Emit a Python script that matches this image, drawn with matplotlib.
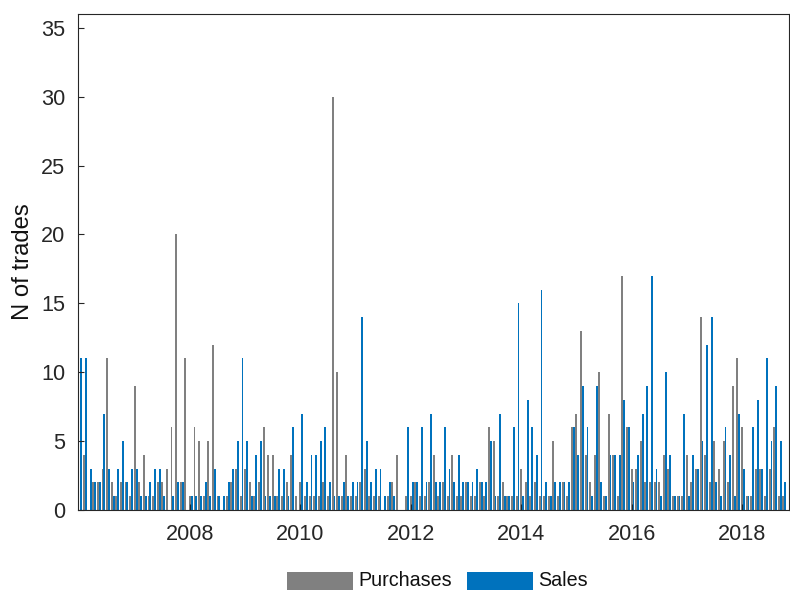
import matplotlib
matplotlib.use("Agg")
import matplotlib.pyplot as plt
from matplotlib.patches import Rectangle
import numpy as np

plt.rcParams['font.family'] = ['Liberation Sans', 'DejaVu Sans']

# Monthly counts, Jan 2006 .. Oct 2018
start_year = 2006
purchases = [0, 4, 0, 2, 2, 3, 11, 2, 1, 2, 2, 1,
             9, 2, 4, 1, 1, 2, 2, 3, 6, 20, 2, 11,
             1, 6, 5, 1, 5, 12, 1, 0, 1, 2, 3, 1,
             3, 2, 1, 2, 6, 4, 4, 1, 1, 2, 4, 1,
             2, 1, 1, 1, 1, 2, 1, 30, 10, 1, 4, 1,
             1, 2, 3, 1, 1, 1, 0, 1, 2, 4, 0, 1,
             1, 2, 1, 1, 2, 4, 1, 2, 1, 4, 1, 1,
             2, 1, 1, 2, 1, 6, 5, 1, 2, 1, 1, 1,
             3, 2, 1, 2, 1, 1, 1, 5, 1, 2, 1, 6,
             7, 13, 4, 2, 4, 10, 1, 7, 4, 1, 17, 6,
             3, 3, 5, 2, 2, 2, 2, 4, 3, 1, 1, 1,
             4, 2, 3, 14, 4, 2, 5, 3, 5, 2, 9, 11,
             6, 1, 1, 3, 3, 1, 3, 6, 1, 1]
sales = [11, 11, 3, 2, 2, 7, 3, 1, 3, 5, 2, 3,
         3, 1, 1, 2, 3, 3, 1, 0, 1, 2, 2, 0,
         1, 1, 1, 2, 1, 3, 1, 1, 2, 3, 5, 11,
         5, 1, 4, 5, 1, 1, 1, 3, 3, 1, 6, 0,
         7, 2, 4, 4, 5, 6, 2, 1, 1, 2, 1, 2,
         2, 14, 5, 2, 3, 3, 1, 2, 1, 0, 0, 6,
         2, 2, 6, 2, 7, 2, 2, 6, 3, 2, 4, 2,
         2, 2, 3, 2, 2, 5, 1, 7, 1, 1, 6, 15,
         1, 8, 6, 4, 16, 2, 1, 2, 2, 2, 2, 6,
         4, 9, 6, 1, 9, 2, 1, 4, 4, 4, 8, 6,
         2, 4, 7, 9, 17, 3, 1, 10, 4, 1, 1, 7,
         1, 4, 3, 5, 12, 14, 2, 1, 6, 4, 1, 7,
         3, 1, 6, 8, 3, 11, 5, 9, 5, 2]
year_ticks = [2008, 2010, 2012, 2014, 2016, 2018]
series_names = ['Purchases', 'Sales']

gray = '#808080'
blue = '#0072BD'
txt = '#262626'

fig = plt.figure(figsize=(7.9, 5.9), dpi=100)
ax = fig.add_axes([78/790, 80/590, 711/790, 496/590])

n = len(purchases)
x = start_year + np.arange(n) / 12.0 + 0.016
w = 0.034
ax.bar(x - 0.017, purchases, width=w, color=gray, linewidth=0)
ax.bar(x + 0.017, sales, width=w, color=blue, linewidth=0)

ax.set_xlim(2005.971, 2018.85)
ax.set_ylim(0, 36)
ax.set_yticks(range(0, 36, 5))
ax.set_xticks(year_ticks)
ax.set_xticklabels([str(y) for y in year_ticks])
ax.tick_params(direction='in', length=4, width=0.8, colors=txt, labelsize=15.6,
               top=False, right=False)
ax.tick_params(axis='x', pad=10)
ax.tick_params(axis='y', pad=9)
for s in ax.spines.values():
    s.set_color(txt)
    s.set_linewidth(0.8)
ax.set_ylabel('N of trades', fontsize=17.2, color='#111111')
ax.yaxis.set_label_coords(-(78 - 34) / 711, 0.5)

# legend (sits at the bottom edge)
W, H = 790, 590
for (x0, x1, c, tx, name) in [(287, 353, gray, 358, series_names[0]),
                               (467, 533, blue, 538, series_names[1])]:
    fig.patches.append(Rectangle((x0 / W, 0), (x1 - x0) / W, (H - 572) / H,
                                 transform=fig.transFigure, color=c, linewidth=0))
    fig.text(tx / W, (H - 586) / H, name, fontsize=14.2, color='#111111',
             ha='left', va='baseline')

fig.savefig('out.png', dpi=100)
